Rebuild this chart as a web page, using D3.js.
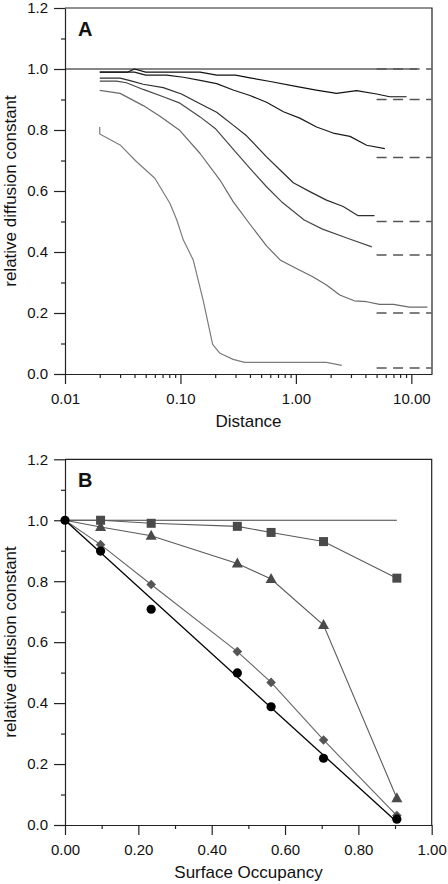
<!DOCTYPE html>
<html><head><meta charset="utf-8">
<script src="https://cdn.jsdelivr.net/npm/d3@7"></script>
<style>
body{margin:0;background:#fff}
svg{display:block}
text{font-family:"Liberation Sans",Arial,Helvetica,sans-serif}
</style>
</head><body>
<svg id="c" width="448" height="884"></svg>
<script>
// ---------- Panel A data (distance vs relative diffusion constant) ----------
const c1X = [0.02, 0.035, 0.04, 0.05, 0.1, 0.148, 0.206, 0.3, 0.4, 0.6, 1.0, 1.5, 2.25, 3.35, 5.0, 6.5, 9.1];
const c1Y = [0.99, 0.99, 1.0, 0.99, 0.99, 0.99, 0.98, 0.98, 0.971, 0.959, 0.943, 0.931, 0.92, 0.929, 0.918, 0.909, 0.909];
const c2X = [0.02, 0.04, 0.05, 0.076, 0.106, 0.148, 0.206, 0.286, 0.4, 0.557, 0.78, 1.08, 1.51, 2.1, 2.94, 4.1, 5.9];
const c2Y = [0.99, 0.99, 0.98, 0.98, 0.973, 0.963, 0.952, 0.931, 0.913, 0.891, 0.86, 0.839, 0.81, 0.79, 0.779, 0.75, 0.739];
const c3X = [0.02, 0.03, 0.0366, 0.0476, 0.071, 0.102, 0.148, 0.206, 0.286, 0.374, 0.557, 0.73, 0.95, 1.32, 1.84, 2.57, 3.46, 4.8];
const c3Y = [0.97, 0.97, 0.962, 0.95, 0.939, 0.918, 0.886, 0.858, 0.816, 0.781, 0.712, 0.669, 0.627, 0.598, 0.57, 0.549, 0.519, 0.519];
const c4X = [0.02, 0.028, 0.034, 0.0476, 0.071, 0.099, 0.148, 0.2, 0.286, 0.4, 0.557, 0.75, 1.18, 1.7, 2.8, 4.55];
const c4Y = [0.96, 0.96, 0.955, 0.933, 0.909, 0.888, 0.843, 0.805, 0.737, 0.674, 0.614, 0.565, 0.505, 0.475, 0.445, 0.417];
const c5X = [0.02, 0.03, 0.0476, 0.0665, 0.099, 0.148, 0.22, 0.286, 0.4, 0.557, 0.73, 1.01, 1.4, 1.84, 2.4, 3.2, 4.1, 5.3, 7.0, 9.6, 13.8];
const c5Y = [0.93, 0.92, 0.88, 0.845, 0.798, 0.723, 0.636, 0.565, 0.491, 0.42, 0.374, 0.346, 0.319, 0.292, 0.259, 0.24, 0.237, 0.228, 0.228, 0.219, 0.219];
const c6X = [0.02, 0.02, 0.03, 0.0417, 0.06, 0.081, 0.093, 0.106, 0.129, 0.157, 0.19, 0.22, 0.286, 0.36, 1.84, 2.5];
const c6Y = [0.81, 0.787, 0.751, 0.696, 0.642, 0.56, 0.505, 0.439, 0.374, 0.243, 0.097, 0.068, 0.048, 0.038, 0.038, 0.028];
const curveColors = ["#111", "#1a1a1a", "#2e2e2e", "#474747", "#6a6a6a", "#7c7c7c"];
const limitValues = [1.0, 0.9, 0.71, 0.5, 0.39, 0.2, 0.02];
const limitRange = [5, 15];
const refLineX = [0.01, 11.2];

const xAMajor = [0.01, 0.1, 1, 10];
const xAMinor = [0.02,0.03,0.04,0.05,0.06,0.07,0.08,0.09,0.2,0.3,0.4,0.5,0.6,0.7,0.8,0.9,2,3,4,5,6,7,8,9];
const yMajor = [0, 0.2, 0.4, 0.6, 0.8, 1.0, 1.2];
const yMinor = [0.1, 0.3, 0.5, 0.7, 0.9, 1.1];

// ---------- Panel B data (surface occupancy) ----------
const occupancy = [0, 0.097, 0.235, 0.47, 0.562, 0.705, 0.905];
const squares   = [1.0, 1.0, 0.99, 0.98, 0.96, 0.93, 0.81];
const triangles = [1.0, 0.978, 0.949, 0.858, 0.807, 0.656, 0.088];
const diamonds  = [1.0, 0.92, 0.789, 0.569, 0.468, 0.279, 0.031];
const circles   = [1.0, 0.899, 0.708, 0.499, 0.388, 0.219, 0.019];
const fitX = [0, 0.905];
const fitY = [1.0, 0.01];
const refBX = [0, 0.905];
const xBMajor = [0, 0.2, 0.4, 0.6, 0.8, 1.0];
const xBMinor = [0.1, 0.3, 0.5, 0.7, 0.9];

const svg = d3.select("#c");
const AX = "#222";

function styleAxis(g){
  g.selectAll("path.domain").attr("stroke", AX).attr("stroke-width", 1.2);
  g.selectAll(".tick line").attr("stroke", AX).attr("stroke-width", 1.2);
  g.selectAll(".tick text").attr("font-size", 15).attr("fill", "#111")
   .attr("font-family", "Liberation Sans, Arial, sans-serif");
}

function drawAxes(x, y, xMaj, xMin, xFmt, y0, y1, x0, x1){
  // minor ticks
  svg.append("g").attr("transform", `translate(0,${y0})`)
    .call(d3.axisBottom(x).tickValues(xMin).tickSize(4).tickFormat(""))
    .call(g => { g.select(".domain").remove(); styleAxis(g); });
  svg.append("g").attr("transform", `translate(${x0},0)`)
    .call(d3.axisLeft(y).tickValues(yMinor).tickSize(4).tickFormat(""))
    .call(g => { g.select(".domain").remove(); styleAxis(g); });
  // major
  svg.append("g").attr("transform", `translate(0,${y0})`)
    .call(d3.axisBottom(x).tickValues(xMaj).tickSize(10).tickSizeOuter(0).tickPadding(9).tickFormat(xFmt))
    .call(styleAxis);
  svg.append("g").attr("transform", `translate(${x0},0)`)
    .call(d3.axisLeft(y).tickValues(yMajor).tickSize(11).tickSizeOuter(0).tickPadding(6).tickFormat(d3.format(".1f")))
    .call(styleAxis);
  // frame top & right
  svg.append("path").attr("d", `M${x0},${y1}H${x1}V${y0}`)
    .attr("fill", "none").attr("stroke", AX).attr("stroke-width", 1.2);
}

// ---------- Panel A ----------
const xA = d3.scaleLog().domain([0.01, 15.1]).range([65, 432]);
const yA = d3.scaleLinear().domain([0, 1.2]).range([374, 8]);

drawAxes(xA, yA, xAMajor, xAMinor, d3.format(".2f"), 374, 8, 65, 432);

const lineA = d3.line().x(d => xA(d[0])).y(d => yA(d[1]));
// reference line at 1.0
svg.append("path").datum(refLineX.map(v => [v, 1.0])).attr("d", lineA)
  .attr("fill", "none").attr("stroke", "#111").attr("stroke-width", 1.2);
// dashed limits
limitValues.forEach(v => {
  svg.append("path").datum(limitRange.map(r => [r, v])).attr("d", lineA)
    .attr("fill", "none").attr("stroke", "#555").attr("stroke-width", 1.5)
    .attr("stroke-dasharray", "10,6.5");
});
const curvesX = [c1X, c2X, c3X, c4X, c5X, c6X];
const curvesY = [c1Y, c2Y, c3Y, c4Y, c5Y, c6Y];
curvesX.forEach((cx, i) => {
  svg.append("path").datum(cx.map((v, j) => [v, curvesY[i][j]])).attr("d", lineA)
    .attr("fill", "none").attr("stroke", curveColors[i]).attr("stroke-width", 1.2)
    .attr("stroke-linejoin", "round");
});

svg.append("text").attr("x", 78).attr("y", 36).attr("font-size", 20)
  .attr("font-weight", "bold").attr("fill", "#111").text("A");
svg.append("text").attr("x", 248.5).attr("y", 427).attr("text-anchor", "middle")
  .attr("font-size", 17).attr("fill", "#111").text("Distance");
svg.append("text").attr("transform", "translate(16,191) rotate(-90)").attr("text-anchor", "middle")
  .attr("font-size", 17).attr("fill", "#111").text("relative diffusion constant");

// ---------- Panel B ----------
const xB = d3.scaleLinear().domain([0, 1]).range([65, 431.7]);
const yB = d3.scaleLinear().domain([0, 1.2]).range([825, 459.3]);

drawAxes(xB, yB, xBMajor, xBMinor, d3.format(".2f"), 825, 459.3, 65, 431.7);

const lineB = d3.line().x(d => xB(d[0])).y(d => yB(d[1]));
svg.append("path").datum(refBX.map(v => [v, 1.0])).attr("d", lineB)
  .attr("fill", "none").attr("stroke", "#444").attr("stroke-width", 1);

const seriesB = [
  {vals: squares, color: "#4a4a4a", line: "#5a5a5a", shape: "square"},
  {vals: triangles, color: "#4a4a4a", line: "#5a5a5a", shape: "triangle"},
  {vals: diamonds, color: "#555", line: "#666", shape: "diamond"},
];
seriesB.forEach(s => {
  svg.append("path").datum(occupancy.map((o, j) => [o, s.vals[j]])).attr("d", lineB)
    .attr("fill", "none").attr("stroke", s.line).attr("stroke-width", 1.1);
});
svg.append("path").datum(fitX.map((o, j) => [o, fitY[j]])).attr("d", lineB)
  .attr("fill", "none").attr("stroke", "#000").attr("stroke-width", 1.3);

seriesB.forEach(s => {
  const pts = occupancy.map((o, j) => [o, s.vals[j]]).slice(1);
  const g = svg.append("g");
  pts.forEach(p => {
    const cx = xB(p[0]), cy = yB(p[1]);
    if (s.shape === "square") {
      g.append("rect").attr("x", cx - 4.5).attr("y", cy - 4.5).attr("width", 9).attr("height", 9).attr("fill", s.color);
    } else if (s.shape === "triangle") {
      g.append("path").attr("d", `M${cx},${cy-6}L${cx+5.5},${cy+4}L${cx-5.5},${cy+4}Z`).attr("fill", s.color);
    } else {
      g.append("path").attr("d", `M${cx},${cy-4.8}L${cx+4.8},${cy}L${cx},${cy+4.8}L${cx-4.8},${cy}Z`).attr("fill", s.color);
    }
  });
});
svg.append("g").selectAll("circle").data(occupancy.map((o, j) => [o, circles[j]])).join("circle")
  .attr("cx", d => xB(d[0])).attr("cy", d => yB(d[1])).attr("r", 4.6).attr("fill", "#000");

svg.append("text").attr("x", 78).attr("y", 487).attr("font-size", 20)
  .attr("font-weight", "bold").attr("fill", "#111").text("B");
svg.append("text").attr("x", 248.5).attr("y", 878).attr("text-anchor", "middle")
  .attr("font-size", 17).attr("fill", "#111").text("Surface Occupancy");
svg.append("text").attr("transform", "translate(16,642) rotate(-90)").attr("text-anchor", "middle")
  .attr("font-size", 17).attr("fill", "#111").text("relative diffusion constant");
</script>
</body></html>
